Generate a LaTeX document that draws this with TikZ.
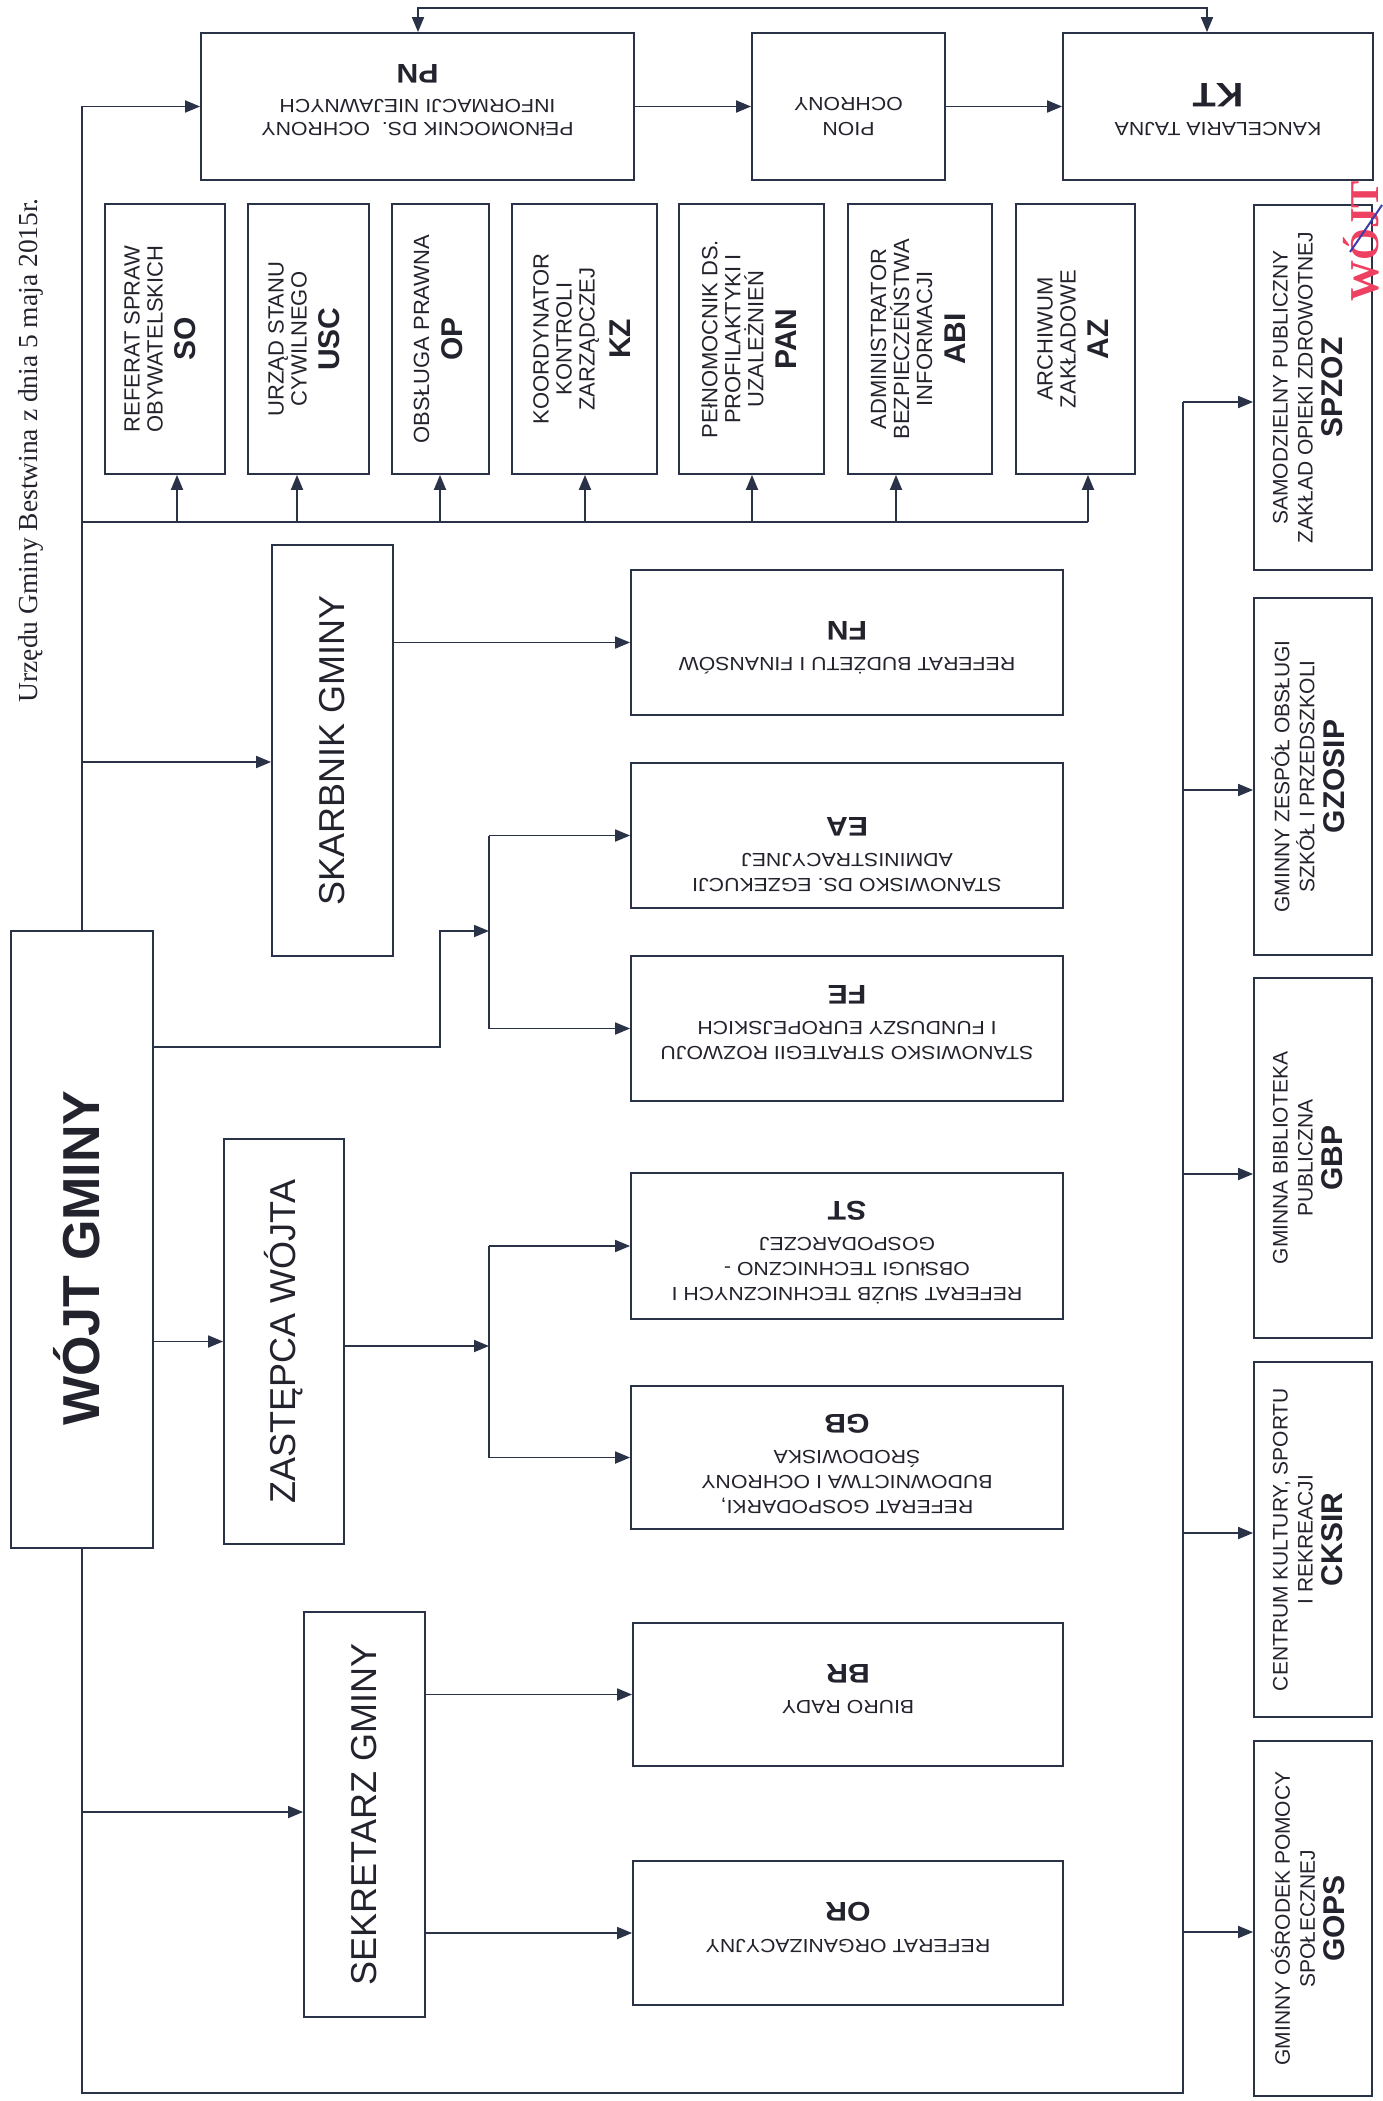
\documentclass[tikz,border=0pt]{standalone}
\usepackage{fontspec}
\setmainfont{Liberation Serif}
\setsansfont{Liberation Sans}
\newfontfamily\boxsans{Liberation Sans}
\newfontfamily\wideboxsans[FakeStretch=1.12]{Liberation Sans}
\usetikzlibrary{arrows.meta}
\definecolor{ln}{RGB}{42,50,72}
\definecolor{tx}{RGB}{35,35,45}
\definecolor{stampred}{RGB}{238,64,96}
\definecolor{sigblue}{RGB}{60,60,170}
\tikzset{
  box/.style={draw=ln, line width=1.8pt, inner sep=0pt, rectangle},
  con/.style={draw=ln, line width=1.8pt},
  tip/.tip={Triangle[length=15pt,width=12pt]},
  arr/.style={con, -tip},
  txt/.style={inner sep=0pt, align=center, text=tx},
  up/.style={txt, rotate=90, font=\boxsans\fontsize{22}{23}\selectfont},
  upR/.style={txt, rotate=90, font=\boxsans\fontsize{21}{25}\selectfont},
  flip/.style={txt, rotate=180, font=\wideboxsans\fontsize{19}{25}\selectfont},
  role/.style={txt, rotate=90, font=\boxsans\fontsize{36}{40}\selectfont},
}
\newcommand\codeS[1]{{\fontsize{30}{32}\selectfont\bfseries #1}}
\newcommand\codeF[1]{{\fontsize{27}{30}\selectfont\bfseries #1}}
\begin{document}
\begin{tikzpicture}[x=1pt,y=-1pt]
\useasboundingbox (0,0) rectangle (1382,2101);

% header
\node[rotate=90, anchor=base east, inner sep=0pt, text=tx, font=\fontsize{27.5}{30}\selectfont] (hdr) at (37,198) {Urzędu Gminy Bestwina z dnia 5 maja 2015r.};

% top row
\node[box, minimum width=433pt, minimum height=147pt] (PN) at (417.5,106.5) {};
\node[box, minimum width=193pt, minimum height=147pt] (PION) at (848.5,106.5) {};
\node[box, minimum width=310pt, minimum height=147pt] (KT) at (1218,106.5) {};
\node[flip, font=\wideboxsans\fontsize{19}{23}\selectfont] (PNt) at (417.5,100) {PEłNOMOCNIK DS.\ \ OCHRONY\\INFORMACJI NIEJAWNYCH\\[12pt]\codeF{PN}};
\node[flip] (PIONt) at (848.5,117) {PION\\OCHRONY};
\node[flip] (KTt) at (1218,110) {KANCELARIA TAJNA\\[14pt]{\fontsize{34}{36}\selectfont\bfseries KT}};

% small boxes row
\node[box, minimum width=120pt, minimum height=270pt] (SO) at (165,339) {};
\node[box, minimum width=121pt, minimum height=270pt] (USC) at (308.5,339) {};
\node[box, minimum width=97pt, minimum height=270pt] (OP) at (440.5,339) {};
\node[box, minimum width=145pt, minimum height=270pt] (KZ) at (584.5,339) {};
\node[box, minimum width=145pt, minimum height=270pt] (PAN) at (751.5,339) {};
\node[box, minimum width=144pt, minimum height=270pt] (ABI) at (920,339) {};
\node[box, minimum width=119pt, minimum height=270pt] (AZ) at (1075.5,339) {};
\node[up] (SOt) at (160,339) {REFERAT SPRAW\\OBYWATELSKICH\\[10pt]\codeS{SO}};
\node[up] (USCt) at (304,339) {URZĄD STANU\\CYWILNEGO\\[10pt]\codeS{USC}};
\node[up] (OPt) at (438,339) {OBSŁUGA PRAWNA\\[10pt]\codeS{OP}};
\node[up] (KZt) at (582,339) {KOORDYNATOR\\KONTROLI\\ZARZĄDCZEJ\\[10pt]\codeS{KZ}};
\node[up] (PANt) at (749,339) {PEłNOMOCNIK DS.\\PROFILAKTYKI I\\UZALEŻNIEŃ\\[10pt]\codeS{PAN}};
\node[up] (ABIt) at (918,339) {ADMINISTRATOR\\BEZPIECZEŃSTWA\\INFORMACJI\\[10pt]\codeS{ABI}};
\node[up] (AZt) at (1073,339) {ARCHIWUM\\ZAKŁADOWE\\[10pt]\codeS{AZ}};

% right column
\node[box, minimum width=118pt, minimum height=365pt] (SPZOZ) at (1313,387.5) {};
\node[box, minimum width=118pt, minimum height=357pt] (GZOSIP) at (1313,776.5) {};
\node[box, minimum width=118pt, minimum height=360pt] (GBP) at (1313,1158) {};
\node[box, minimum width=118pt, minimum height=355pt] (CKSIR) at (1313,1539.5) {};
\node[box, minimum width=118pt, minimum height=355pt] (GOPS) at (1313,1918.5) {};
\node[upR] (SPZOZt) at (1308,387.5) {SAMODZIELNY PUBLICZNY\\ZAKŁAD OPIEKI ZDROWOTNEJ\\[5pt]\codeS{SPZOZ}};
\node[upR] (GZOSIPt) at (1308,776.5) {GMINNY ZESPÓŁ OBSŁUGI\\SZKÓŁ I PRZEDSZKOLI\\[5pt]\codeS{GZOSIP}};
\node[upR] (GBPt) at (1308,1158) {GMINNA BIBLIOTEKA\\PUBLICZNA\\[5pt]\codeS{GBP}};
\node[upR] (CKSIRt) at (1308,1539.5) {CENTRUM KULTURY, SPORTU\\I REKREACJI\\[5pt]\codeS{CKSIR}};
\node[upR] (GOPSt) at (1308,1918.5) {GMINNY OŚRODEK POMOCY\\SPOŁECZNEJ\\[5pt]\codeS{GOPS}};

% head
\node[box, minimum width=142pt, minimum height=617pt] (WOJT) at (82,1239.5) {};
\node[txt, rotate=90, font=\boxsans\fontsize{52}{56}\selectfont\bfseries] (WOJTt) at (77,1258) {WÓJT GMINY};

% deputies
\node[box, minimum width=121pt, minimum height=411pt] (SKARB) at (332.5,750.5) {};
\node[role] (SKARBt) at (332.5,750.5) {SKARBNIK GMINY};
\node[box, minimum width=120pt, minimum height=405pt] (ZAST) at (284,1341.5) {};
\node[role] (ZASTt) at (284,1341.5) {ZASTĘPCA WÓJTA};
\node[box, minimum width=121pt, minimum height=405pt] (SEK) at (364.5,1814.5) {};
\node[role] (SEKt) at (364.5,1814.5) {SEKRETARZ GMINY};

% departments
\node[box, minimum width=432pt, minimum height=145pt] (FN) at (847,642.5) {};
\node[box, minimum width=432pt, minimum height=145pt] (EA) at (847,835.5) {};
\node[box, minimum width=432pt, minimum height=145pt] (FE) at (847,1028.5) {};
\node[box, minimum width=432pt, minimum height=146pt] (ST) at (847,1246) {};
\node[box, minimum width=432pt, minimum height=143pt] (GB) at (847,1457.5) {};
\node[box, minimum width=430pt, minimum height=143pt] (BR) at (848,1694.5) {};
\node[box, minimum width=430pt, minimum height=144pt] (OR) at (848,1933) {};
\node[flip] (FNt) at (847,648) {REFERAT BUDŻETU I FINANSÓW\\[11pt]\codeF{FN}};
\node[flip] (EAt) at (847,855) {STANOWISKO DS. EGZEKUCJI\\ADMINISTRACYJNEJ\\[11pt]\codeF{EA}};
\node[flip] (FEt) at (847,1022.5) {STANOWISKO STRATEGII ROZWOJU\\I FUNDUSZY EUROPEJSKICH\\[11pt]\codeF{FE}};
\node[flip] (STt) at (847,1253) {REFERAT SłUŻB TECHNICZNYCH I\\OBSłUGI TECHNICZNO -\\GOSPODARCZEJ\\[11pt]\codeF{ST}};
\node[flip] (GBt) at (847,1464) {REFERAT GOSPODARKI,\\BUDOWNICTWA I OCHRONY\\ŚRODOWISKA\\[11pt]\codeF{GB}};
\node[flip] (BRt) at (848,1689) {BIURO RADY\\[11pt]\codeF{BR}};
\node[flip] (ORt) at (848,1927.5) {REFERAT ORGANIZACYJNY\\[12pt]\codeF{OR}};

% ---- connectors ----
\draw[arr] (WOJT.north) |- (PN.west);
\draw[arr] (PN.east) -- (PION.west);
\draw[arr] (PION.east) -- (KT.west);
\coordinate (d1) at (418,8);
\coordinate (d2) at (1207,8);
\draw[con, tip-tip] (d1 |- PN.north) -- (d1) -- (d2) -- (d2 |- KT.north);

% bus to small boxes
\coordinate (bus0) at (82,522);
\coordinate (bus1) at (1088,522);
\draw[con] (bus0) -- (bus1);
\coordinate (aSO) at (177,522);
\coordinate (aUSC) at (297,522);
\coordinate (aOP) at (440,522);
\coordinate (aKZ) at (585,522);
\coordinate (aPAN) at (752,522);
\coordinate (aABI) at (896,522);
\draw[arr] (aSO) -- (aSO |- SO.south);
\draw[arr] (aUSC) -- (aUSC |- USC.south);
\draw[arr] (aOP) -- (aOP |- OP.south);
\draw[arr] (aKZ) -- (aKZ |- KZ.south);
\draw[arr] (aPAN) -- (aPAN |- PAN.south);
\draw[arr] (aABI) -- (aABI |- ABI.south);
\draw[arr] (bus1) -- (bus1 |- AZ.south);

% skarbnik
\coordinate (tS) at (82,762);
\draw[arr] (tS) -- (tS -| SKARB.west);
\draw[arr] (SKARB.east |- FN.west) -- (FN.west);

% EA / FE branch
\coordinate (w1) at (153,1047);
\coordinate (w2) at (440,931);
\coordinate (br1) at (489,931);
\draw[arr] (w1) -| (w2) -- (br1);
\draw[con] (EA.west -| br1) -- (FE.west -| br1);
\draw[arr] (EA.west -| br1) -- (EA.west);
\draw[arr] (FE.west -| br1) -- (FE.west);

% zastepca
\draw[arr] (ZAST.west -| WOJT.east) -- (ZAST.west);
\coordinate (br2) at (489,1346);
\draw[arr] (ZAST.east |- br2) -- (br2);
\draw[con] (ST.west -| br2) -- (GB.west -| br2);
\draw[arr] (ST.west -| br2) -- (ST.west);
\draw[arr] (GB.west -| br2) -- (GB.west);

% sekretarz
\coordinate (tK) at (82,1812);
\draw[arr] (tK) -- (tK -| SEK.west);
\draw[arr] (SEK.east |- BR.west) -- (BR.west);
\draw[arr] (SEK.east |- OR.west) -- (OR.west);

% bottom loop to right column
\coordinate (bl) at (82,2093);
\coordinate (brc) at (1183,2093);
\coordinate (r1) at (1183,402);
\coordinate (r2) at (1183,790);
\coordinate (r3) at (1183,1174);
\coordinate (r4) at (1183,1533);
\coordinate (r5) at (1183,1932);
\draw[con] (WOJT.south) -- (bl) -- (brc) -- (r1);
\draw[arr] (r1) -- (r1 -| SPZOZ.west);
\draw[arr] (r2) -- (r2 -| GZOSIP.west);
\draw[arr] (r3) -- (r3 -| GBP.west);
\draw[arr] (r4) -- (r4 -| CKSIR.west);
\draw[arr] (r5) -- (r5 -| GOPS.west);

% stamp
\node[rotate=90, anchor=base west, inner sep=0pt, text=stampred, font=\fontsize{41}{44}\selectfont\bfseries] (stamp) at (1378,302) {WÓJT};
\coordinate (s1) at (1350,252);
\coordinate (s2) at (1382,205);
\draw[sigblue, line width=2pt] (s1) .. controls (1361,236) and (1372,220) .. (s2);
\end{tikzpicture}
\end{document}
